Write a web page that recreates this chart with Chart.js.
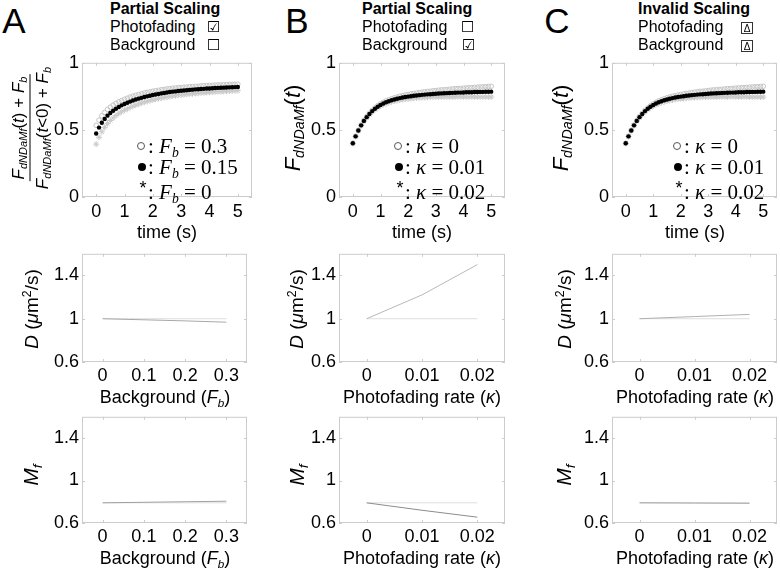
<!DOCTYPE html>
<html>
<head>
<meta charset="utf-8">
<script src="https://cdn.jsdelivr.net/npm/chart.js@4.4.0/dist/chart.umd.min.js"></script>
<style>
  body { margin: 0; background: #fff; width: 780px; height: 570px; position: relative; overflow: hidden;
         font-family: "Liberation Sans", Arial, sans-serif; color: #000; }
  canvas { position: absolute; }
  .t { position: absolute; white-space: nowrap; line-height: 1; }
  .c { transform: translate(-50%, -50%); }
  .l { transform: translateY(-50%); }
  .rot { transform: translate(-50%, -50%) rotate(-90deg); }
  sub { font-size: 0.65em; vertical-align: -0.3em; line-height: 0; }
  sup { font-size: 0.65em; vertical-align: 0.5em; line-height: 0; }
  .frac { display: inline-flex; flex-direction: column; align-items: center; }
  .frac .num { border-bottom: 1px solid #000; padding: 0 2px 3px; }
  .frac .den { padding: 3px 2px 0; }
  .hdr { font-size: 16px; }
  .chk { font-family: "DejaVu Sans", sans-serif; font-size: 15px; }
  .tri { display: inline-block; width: 10px; height: 10px; border: 1px solid #333; font-size: 10px;
         line-height: 11px; text-align: center; }
  .leg { font-family: "Liberation Serif", "DejaVu Serif", serif; font-size: 21px; }
  .oc { position: absolute; width: 6px; height: 6px; border: 1px solid #555; border-radius: 50%; transform: translate(-50%, -50%); }
  .fc { position: absolute; width: 8px; height: 8px; background: #000; border-radius: 50%; transform: translate(-50%, -50%); }
</style>
</head>
<body>
<script>
// time axis of the recovery curves (s)
const time = [0, 0.1, 0.2, 0.3, 0.4, 0.5, 0.6, 0.7, 0.8, 0.9, 1, 1.1, 1.2, 1.3, 1.4, 1.5, 1.6, 1.7, 1.8, 1.9,
  2, 2.1, 2.2, 2.3, 2.4, 2.5, 2.6, 2.7, 2.8, 2.9, 3, 3.1, 3.2, 3.3, 3.4, 3.5, 3.6, 3.7, 3.8, 3.9,
  4, 4.1, 4.2, 4.3, 4.4, 4.5, 4.6, 4.7, 4.8, 4.9, 5];

// panel A : background Fb = 0.3 (open), 0.15 (filled), 0 (asterisk)
const recA_open = [0.534, 0.573, 0.605, 0.630, 0.652, 0.669, 0.684, 0.698, 0.709, 0.719, 0.728, 0.736, 0.745, 0.752,
  0.758, 0.764, 0.769, 0.775, 0.779, 0.783, 0.788, 0.792, 0.795, 0.799, 0.801, 0.805, 0.807, 0.810, 0.812, 0.815,
  0.816, 0.818, 0.819, 0.822, 0.823, 0.825, 0.825, 0.828, 0.829, 0.830, 0.831, 0.832, 0.834, 0.835, 0.835, 0.836,
  0.837, 0.838, 0.839, 0.840, 0.841];
const recA_filled = [0.473, 0.517, 0.553, 0.582, 0.606, 0.626, 0.643, 0.658, 0.671, 0.683, 0.693, 0.702, 0.711, 0.719,
  0.726, 0.733, 0.739, 0.745, 0.750, 0.755, 0.760, 0.764, 0.768, 0.772, 0.775, 0.779, 0.782, 0.785, 0.787, 0.790,
  0.792, 0.794, 0.796, 0.798, 0.800, 0.802, 0.803, 0.805, 0.806, 0.808, 0.809, 0.810, 0.812, 0.813, 0.814, 0.815,
  0.816, 0.817, 0.818, 0.819, 0.820];
const recA_star = [0.394, 0.445, 0.486, 0.519, 0.547, 0.570, 0.589, 0.607, 0.622, 0.635, 0.647, 0.657, 0.668, 0.677,
  0.685, 0.693, 0.700, 0.707, 0.713, 0.718, 0.724, 0.729, 0.733, 0.738, 0.741, 0.746, 0.749, 0.753, 0.755, 0.759,
  0.761, 0.763, 0.765, 0.768, 0.770, 0.772, 0.773, 0.776, 0.777, 0.779, 0.780, 0.782, 0.784, 0.785, 0.786, 0.787,
  0.788, 0.790, 0.791, 0.792, 0.793];

// panel B : photofading kappa = 0 (open), 0.01 (filled), 0.02 (asterisk)
const recB_open = [0.400, 0.453, 0.497, 0.536, 0.570, 0.599, 0.624, 0.646, 0.664, 0.680, 0.694, 0.706, 0.716, 0.724,
  0.732, 0.739, 0.745, 0.751, 0.755, 0.760, 0.764, 0.768, 0.772, 0.774, 0.778, 0.781, 0.784, 0.787, 0.788, 0.791,
  0.793, 0.796, 0.798, 0.799, 0.801, 0.803, 0.805, 0.807, 0.808, 0.809, 0.811, 0.813, 0.814, 0.815, 0.817, 0.818,
  0.820, 0.821, 0.822, 0.823, 0.825];
const recB_filled = [0.400, 0.452, 0.495, 0.534, 0.567, 0.595, 0.619, 0.640, 0.658, 0.673, 0.686, 0.697, 0.706, 0.714,
  0.721, 0.727, 0.732, 0.737, 0.741, 0.745, 0.748, 0.751, 0.754, 0.756, 0.759, 0.761, 0.763, 0.765, 0.766, 0.768,
  0.769, 0.771, 0.772, 0.773, 0.774, 0.775, 0.776, 0.777, 0.778, 0.778, 0.779, 0.780, 0.780, 0.781, 0.782, 0.782,
  0.783, 0.783, 0.784, 0.784, 0.785];
const recB_star = [0.400, 0.451, 0.493, 0.532, 0.564, 0.591, 0.614, 0.634, 0.652, 0.666, 0.678, 0.688, 0.696, 0.704,
  0.710, 0.715, 0.719, 0.723, 0.727, 0.730, 0.732, 0.734, 0.736, 0.738, 0.740, 0.741, 0.742, 0.743, 0.744, 0.745,
  0.745, 0.746, 0.746, 0.747, 0.747, 0.747, 0.747, 0.747, 0.748, 0.747, 0.747, 0.747, 0.746, 0.747, 0.747, 0.746,
  0.746, 0.745, 0.746, 0.745, 0.745];

// panel C reads the same as panel B
const recC_open = recB_open;
const recC_filled = recB_filled;
const recC_star = recB_star;

const timeTicks = [0, 1, 2, 3, 4, 5];
const recTicks = [0, 0.5, 1];

// fitted parameters
const fbLevels = [0, 0.1, 0.2, 0.3];
const kappaLevels = [0, 0.01, 0.02];
const paramTicks = [0.6, 1, 1.4];

const dA_fit = [1.0, 0.99, 0.98, 0.968];
const dA_true = [1, 1, 1, 1];
const dB_fit = [1.0, 1.22, 1.5];
const dB_true = [1, 1, 1];
const dC_fit = [1.0, 1.02, 1.04];
const dC_true = [1, 1, 1];

const mA_fit = [0.79, 0.795, 0.80, 0.805];
const mA_true = [0.79, 0.79, 0.79, 0.79];
const mB_fit = [0.79, 0.72, 0.655];
const mB_true = [0.79, 0.79, 0.79];
const mC_fit = [0.79, 0.788, 0.786];
const mC_true = [0.79, 0.79, 0.79];

const tickFont = { family: '"Liberation Sans", Arial, sans-serif', size: 18 };

// light box round the plot area with small inward ticks, like the matlab axes
const boxPlugin = {
  id: 'box',
  afterDraw(chart) {
    const a = chart.chartArea, ctx = chart.ctx;
    ctx.save();
    ctx.strokeStyle = '#cccccc';
    ctx.lineWidth = 1;
    ctx.strokeRect(a.left + 0.5, a.top + 0.5, a.width - 1, a.height - 1);
    ctx.beginPath();
    chart.scales.x.ticks.forEach(t => {
      const px = Math.round(chart.scales.x.getPixelForValue(t.value)) + 0.5;
      ctx.moveTo(px, a.bottom); ctx.lineTo(px, a.bottom - 3);
      ctx.moveTo(px, a.top); ctx.lineTo(px, a.top + 3);
    });
    chart.scales.y.ticks.forEach(t => {
      const py = Math.round(chart.scales.y.getPixelForValue(t.value)) + 0.5;
      ctx.moveTo(a.left, py); ctx.lineTo(a.left + 3, py);
      ctx.moveTo(a.right, py); ctx.lineTo(a.right - 3, py);
    });
    ctx.stroke();
    ctx.restore();
  }
};

function pairs(xs, ys) {
  return xs.map((x, i) => ({ x: x, y: ys[i] }));
}

function recSets(open, filled, star) {
  return [
    { data: pairs(time, filled), pointStyle: 'circle', pointRadius: 2.2, backgroundColor: '#000', borderColor: '#000', borderWidth: 0, order: 0 },
    { data: pairs(time, open), pointStyle: 'circle', pointRadius: 2.3, backgroundColor: 'rgba(255,255,255,0)', borderColor: '#c4c4c4', borderWidth: 1, order: 1 },
    { data: pairs(time, star), pointStyle: 'star', pointRadius: 3, borderColor: '#c8c8c8', borderWidth: 1, order: 2 }
  ];
}

function lineSets(xs, fit, truth, fitColor) {
  return [
    { data: pairs(xs, fit), showLine: true, pointRadius: 0, borderColor: fitColor, borderWidth: 1, order: 0 },
    { data: pairs(xs, truth), showLine: true, pointRadius: 0, borderColor: '#dedede', borderWidth: 1, order: 1 }
  ];
}

function makeChart(rect, xr, yr, xt, yt, datasets, xPad) {
  const padL = 50, padT = 12, padR = 12, padB = 30;
  const [l, t, w, h] = rect;
  const cv = document.createElement('canvas');
  cv.width = w + padL + padR;
  cv.height = h + padT + padB;
  cv.style.left = (l - padL) + 'px';
  cv.style.top = (t - padT) + 'px';
  document.body.appendChild(cv);

  new Chart(cv, {
    type: 'scatter',
    data: { datasets: datasets },
    options: {
      responsive: false,
      animation: false,
      events: [],
      layout: { autoPadding: false, padding: { left: 0, top: padT, right: padR, bottom: 0 } },
      plugins: { legend: { display: false }, tooltip: { enabled: false } },
      scales: {
        x: {
          type: 'linear', min: xr[0], max: xr[1],
          afterFit: s => { s.height = padB; },
          afterBuildTicks: s => { s.ticks = xt.map(v => ({ value: v })); },
          grid: { display: false, drawTicks: false },
          border: { display: false },
          ticks: { font: tickFont, color: '#000', padding: xPad, maxRotation: 0, autoSkip: false, callback: v => String(v) }
        },
        y: {
          type: 'linear', min: yr[0], max: yr[1],
          afterFit: s => { s.width = padL; },
          afterBuildTicks: s => { s.ticks = yt.map(v => ({ value: v })); },
          grid: { display: false, drawTicks: false },
          border: { display: false },
          ticks: { font: tickFont, color: '#000', padding: 3, autoSkip: false, callback: v => String(v) }
        }
      }
    },
    plugins: [boxPlugin]
  });
}

// top row: recovery curves
makeChart([82, 61, 170, 136], [-0.5, 5.5], [0, 1], timeTicks, recTicks, recSets(recA_open, recA_filled, recA_star), 4);
makeChart([339, 61, 166, 136], [-0.5, 5.5], [0, 1], timeTicks, recTicks, recSets(recB_open, recB_filled, recB_star), 4);
makeChart([612, 61, 165, 136], [-0.5, 5.5], [0, 1], timeTicks, recTicks, recSets(recC_open, recC_filled, recC_star), 4);

// middle row: D
makeChart([82, 252, 165, 110], [-0.05, 0.35], [0.6, 1.6], fbLevels, paramTicks, lineSets(fbLevels, dA_fit, dA_true, '#a8a8a8'), 3);
makeChart([339, 252, 166, 110], [-0.005, 0.025], [0.6, 1.6], kappaLevels, paramTicks, lineSets(kappaLevels, dB_fit, dB_true, '#b8b8b8'), 3);
makeChart([612, 252, 165, 110], [-0.005, 0.025], [0.6, 1.6], kappaLevels, paramTicks, lineSets(kappaLevels, dC_fit, dC_true, '#b0b0b0'), 3);

// bottom row: Mf
makeChart([82, 415, 165, 108], [-0.05, 0.35], [0.6, 1.6], fbLevels, paramTicks, lineSets(fbLevels, mA_fit, mA_true, '#a0a0a0'), 3);
makeChart([339, 415, 166, 108], [-0.005, 0.025], [0.6, 1.6], kappaLevels, paramTicks, lineSets(kappaLevels, mB_fit, mB_true, '#8c8c8c'), 3);
makeChart([612, 415, 165, 108], [-0.005, 0.025], [0.6, 1.6], kappaLevels, paramTicks, lineSets(kappaLevels, mC_fit, mC_true, '#a0a0a0'), 3);
</script>

<!-- panel letters -->
<div class="t c" style="left:14px;top:20px;font-size:35px">A</div>
<div class="t c" style="left:297px;top:20px;font-size:35px">B</div>
<div class="t c" style="left:557px;top:20px;font-size:35px">C</div>

<!-- headers -->
<div class="t l hdr" style="left:110px;top:9px"><b>Partial Scaling</b></div>
<div class="t l hdr" style="left:110px;top:27px">Photofading</div>
<div class="t l hdr" style="left:110px;top:45px">Background</div>
<div class="t l chk" style="left:207px;top:27px">☑</div>
<div class="t l chk" style="left:207px;top:45px">☐</div>

<div class="t l hdr" style="left:362px;top:9px"><b>Partial Scaling</b></div>
<div class="t l hdr" style="left:362px;top:27px">Photofading</div>
<div class="t l hdr" style="left:362px;top:45px">Background</div>
<div class="t l chk" style="left:461px;top:27px">☐</div>
<div class="t l chk" style="left:462px;top:45px">☑</div>

<div class="t l hdr" style="left:638px;top:9px"><b>Invalid Scaling</b></div>
<div class="t l hdr" style="left:638px;top:27px">Photofading</div>
<div class="t l hdr" style="left:638px;top:45px">Background</div>
<div class="t l" style="left:741px;top:27px"><span class="tri">Δ</span></div>
<div class="t l" style="left:741px;top:45px"><span class="tri">Δ</span></div>

<!-- y axis titles -->
<div class="t rot" style="left:30px;top:128px;font-size:17px">
  <div class="frac">
    <span class="num"><i>F</i><sub><i>dNDaMf</i></sub>(<i>t</i>) + <i>F</i><sub><i>b</i></sub></span>
    <span class="den"><i>F</i><sub><i>dNDaMf</i></sub>(<i>t</i>&lt;0) + <i>F</i><sub><i>b</i></sub></span>
  </div>
</div>
<div class="t rot" style="left:293px;top:128px;font-size:22px"><i>F</i><sub><i>dNDaMf</i></sub>(<i>t</i>)</div>
<div class="t rot" style="left:561px;top:128px;font-size:22px"><i>F</i><sub><i>dNDaMf</i></sub>(<i>t</i>)</div>

<div class="t rot" style="left:31px;top:309px;font-size:19px"><i>D</i> (<i>μ</i>m<sup>2</sup>/s)</div>
<div class="t rot" style="left:296px;top:309px;font-size:19px"><i>D</i> (<i>μ</i>m<sup>2</sup>/s)</div>
<div class="t rot" style="left:564px;top:309px;font-size:19px"><i>D</i> (<i>μ</i>m<sup>2</sup>/s)</div>

<div class="t rot" style="left:30px;top:475px;font-size:21px"><i>M</i><sub><i>f</i></sub></div>
<div class="t rot" style="left:296px;top:475px;font-size:21px"><i>M</i><sub><i>f</i></sub></div>
<div class="t rot" style="left:563px;top:475px;font-size:21px"><i>M</i><sub><i>f</i></sub></div>

<!-- x axis titles -->
<div class="t c" style="left:167px;top:232px;font-size:18px">time (s)</div>
<div class="t c" style="left:422px;top:232px;font-size:18px">time (s)</div>
<div class="t c" style="left:695px;top:232px;font-size:18px">time (s)</div>

<div class="t c" style="left:165px;top:397px;font-size:18px">Background (<i>F</i><sub><i>b</i></sub>)</div>
<div class="t c" style="left:422px;top:397px;font-size:18px">Photofading rate (<i>κ</i>)</div>
<div class="t c" style="left:695px;top:397px;font-size:18px">Photofading rate (<i>κ</i>)</div>

<div class="t c" style="left:165px;top:558px;font-size:18px">Background (<i>F</i><sub><i>b</i></sub>)</div>
<div class="t c" style="left:422px;top:558px;font-size:18px">Photofading rate (<i>κ</i>)</div>
<div class="t c" style="left:695px;top:558px;font-size:18px">Photofading rate (<i>κ</i>)</div>

<!-- in-plot legends -->
<div class="oc" style="left:141px;top:146px"></div>
<div class="t l leg" style="left:148px;top:146px">:&nbsp;<i>F</i><sub><i>b</i></sub>&nbsp;=&nbsp;0.3</div>
<div class="fc" style="left:142px;top:167px"></div>
<div class="t l leg" style="left:148px;top:167px">:&nbsp;<i>F</i><sub><i>b</i></sub>&nbsp;=&nbsp;0.15</div>
<div class="t c" style="left:143px;top:188px;font-size:18px">*</div>
<div class="t l leg" style="left:148px;top:192px">:&nbsp;<i>F</i><sub><i>b</i></sub>&nbsp;=&nbsp;0</div>

<div class="oc" style="left:398px;top:146px"></div>
<div class="t l leg" style="left:405px;top:146px">:&nbsp;<i>κ</i>&nbsp;=&nbsp;0</div>
<div class="fc" style="left:399px;top:167px"></div>
<div class="t l leg" style="left:405px;top:167px">:&nbsp;<i>κ</i>&nbsp;=&nbsp;0.01</div>
<div class="t c" style="left:400px;top:188px;font-size:18px">*</div>
<div class="t l leg" style="left:405px;top:192px">:&nbsp;<i>κ</i>&nbsp;=&nbsp;0.02</div>

<div class="oc" style="left:677px;top:146px"></div>
<div class="t l leg" style="left:684px;top:146px">:&nbsp;<i>κ</i>&nbsp;=&nbsp;0</div>
<div class="fc" style="left:678px;top:167px"></div>
<div class="t l leg" style="left:684px;top:167px">:&nbsp;<i>κ</i>&nbsp;=&nbsp;0.01</div>
<div class="t c" style="left:679px;top:188px;font-size:18px">*</div>
<div class="t l leg" style="left:684px;top:192px">:&nbsp;<i>κ</i>&nbsp;=&nbsp;0.02</div>
</body>
</html>
